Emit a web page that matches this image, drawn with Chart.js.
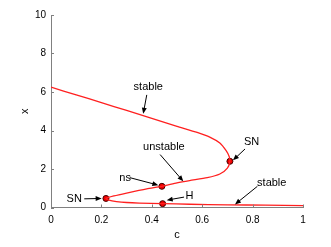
<!DOCTYPE html>
<html>
<head>
<meta charset="utf-8">
<script src="https://cdn.jsdelivr.net/npm/chart.js@4/dist/chart.umd.min.js"></script>
<style>
  html, body { margin: 0; padding: 0; background: #fff; }
  #wrap { width: 331px; height: 247px; }
</style>
</head>
<body>
<div id="wrap"><canvas id="bif"></canvas></div>
<script>
// bifurcation curve, c on the horizontal axis, x on the vertical one
var curveC = [0, 0.1, 0.2, 0.3, 0.4, 0.5, 0.58, 0.63, 0.67, 0.695, 0.707, 0.71, 0.7, 0.67, 0.62, 0.55, 0.5, 0.44, 0.38, 0.3, 0.25, 0.218, 0.23, 0.26, 0.3, 0.35, 0.443, 0.55, 0.7, 0.85, 1.0];
var curveX = [6.25, 5.85, 5.45, 5.04, 4.63, 4.22, 3.9, 3.66, 3.35, 2.95, 2.65, 2.4, 2.05, 1.74, 1.55, 1.4, 1.28, 1.1, 0.97, 0.75, 0.6, 0.47, 0.38, 0.31, 0.26, 0.23, 0.2, 0.17, 0.14, 0.12, 0.1];

// special points (SN, ns, H, SN)
var pointC = [0.218, 0.44, 0.443, 0.71];
var pointX = [0.47, 1.1, 0.2, 2.4];

// labels with arrows
var noteText = ["stable", "unstable", "SN", "ns", "SN", "H", "stable"];
var noteC = [0.386, 0.448, 0.796, 0.294, 0.092, 0.549, 0.876];
var noteX = [6.25, 3.12, 3.38, 1.54, 0.45, 0.62, 1.28];
var tailC = [0.38, 0.433, 0.77, 0.313, 0.132, 0.528, 0.819];
var tailX = [5.85, 2.75, 3.04, 1.55, 0.45, 0.54, 1.10];
var tipC = [0.366, 0.525, 0.722, 0.426, 0.201, 0.459, 0.73];
var tipX = [4.87, 1.36, 2.45, 1.16, 0.47, 0.38, 0.16];

var xTicks = [0, 0.2, 0.4, 0.6, 0.8, 1];
var yTicks = [0, 2, 4, 6, 8, 10];

var curveData = curveC.map(function (c, i) { return {x: c, y: curveX[i]}; });
var pointData = pointC.map(function (c, i) { return {x: c, y: pointX[i]}; });

var axisGrey = "#808080";

var notesPlugin = {
  id: "notes",
  afterDraw: function (chart) {
    var ctx = chart.ctx;
    var sx = chart.scales.x, sy = chart.scales.y;
    var area = chart.chartArea;
    ctx.save();
    // inward tick marks
    ctx.strokeStyle = axisGrey;
    ctx.lineWidth = 1;
    xTicks.forEach(function (t) {
      var px = Math.round(sx.getPixelForValue(t)) + 0.5;
      ctx.beginPath();
      ctx.moveTo(px, area.bottom);
      ctx.lineTo(px, area.bottom - 3);
      ctx.stroke();
    });
    yTicks.forEach(function (t) {
      var py = Math.round(sy.getPixelForValue(t)) + 0.5;
      ctx.beginPath();
      ctx.moveTo(area.left, py);
      ctx.lineTo(area.left + 3, py);
      ctx.stroke();
    });
    // labels and arrows
    ctx.font = "11px 'Liberation Sans', Arial, sans-serif";
    ctx.textAlign = "center";
    ctx.textBaseline = "middle";
    ctx.fillStyle = "#000";
    ctx.strokeStyle = "#000";
    for (var i = 0; i < noteText.length; i++) {
      ctx.fillText(noteText[i], sx.getPixelForValue(noteC[i]), sy.getPixelForValue(noteX[i]));
      var x0 = sx.getPixelForValue(tailC[i]), y0 = sy.getPixelForValue(tailX[i]);
      var x1 = sx.getPixelForValue(tipC[i]), y1 = sy.getPixelForValue(tipX[i]);
      var a = Math.atan2(y1 - y0, x1 - x0);
      ctx.lineWidth = 1;
      ctx.beginPath();
      ctx.moveTo(x0, y0);
      ctx.lineTo(x1 - 4 * Math.cos(a), y1 - 4 * Math.sin(a));
      ctx.stroke();
      ctx.beginPath();
      ctx.moveTo(x1, y1);
      ctx.lineTo(x1 - 6 * Math.cos(a) + 2.5 * Math.sin(a), y1 - 6 * Math.sin(a) - 2.5 * Math.cos(a));
      ctx.lineTo(x1 - 6 * Math.cos(a) - 2.5 * Math.sin(a), y1 - 6 * Math.sin(a) + 2.5 * Math.cos(a));
      ctx.closePath();
      ctx.fill();
    }
    ctx.restore();
  }
};

new Chart(document.getElementById("bif"), {
  type: "scatter",
  data: {
    datasets: [{
      data: curveData,
      showLine: true,
      borderColor: "#ff2020",
      borderWidth: 1.3,
      pointRadius: 0,
      tension: 0.2,
      fill: false
    }, {
      data: pointData,
      showLine: false,
      pointRadius: 3,
      pointBackgroundColor: "#ee0000",
      pointBorderColor: "#400000",
      pointBorderWidth: 1
    }]
  },
  options: {
    responsive: true,
    maintainAspectRatio: false,
    animation: false,
    layout: { padding: { left: 0, right: 28, top: 15, bottom: 0 } },
    plugins: { legend: { display: false }, tooltip: { enabled: false } },
    scales: {
      x: {
        type: "linear",
        min: 0, max: 1,
        afterFit: function (s) { s.height = 39.5; },
        afterBuildTicks: function (s) { s.ticks = xTicks.map(function (v) { return {value: v}; }); },
        border: { color: axisGrey, width: 1 },
        grid: { display: true, drawOnChartArea: false, drawTicks: false, color: "rgba(0,0,0,0)" },
        ticks: {
          padding: 7,
          color: "#000",
          font: { family: "'Liberation Sans', Arial, sans-serif", size: 10 },
          maxRotation: 0,
          callback: function (v) { return String(v); }
        },
        title: {
          display: true, text: "c", color: "#000",
          font: { family: "'Liberation Sans', Arial, sans-serif", size: 11 },
          padding: { top: 0, bottom: 5 }
        }
      },
      y: {
        type: "linear",
        min: 0, max: 10,
        afterFit: function (s) { s.width = 51; },
        afterBuildTicks: function (s) { s.ticks = yTicks.map(function (v) { return {value: v}; }); },
        border: { color: axisGrey, width: 1 },
        grid: { display: true, drawOnChartArea: false, drawTicks: false, color: "rgba(0,0,0,0)" },
        ticks: {
          padding: 5,
          color: "#000",
          font: { family: "'Liberation Sans', Arial, sans-serif", size: 10 }
        },
        title: {
          display: true, text: "x", color: "#000",
          font: { family: "'Liberation Sans', Arial, sans-serif", size: 11 },
          padding: { top: 18, bottom: 0 }
        }
      }
    }
  },
  plugins: [notesPlugin]
});
</script>
</body>
</html>
